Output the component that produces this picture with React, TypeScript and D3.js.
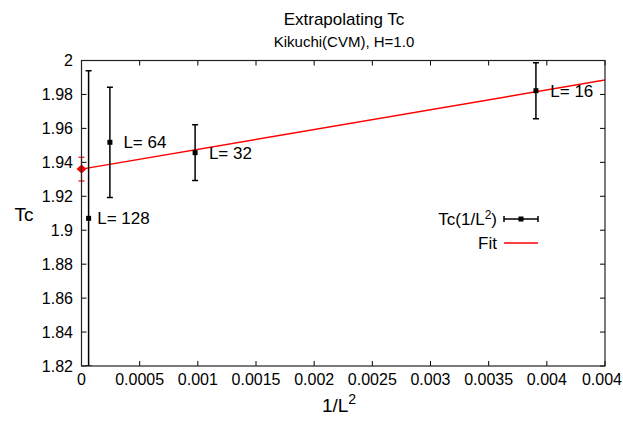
import React from "react";
import * as d3 from "d3";

// ---- data ----
const systemSizes = [16, 32, 64, 128];
const tcValues = [1.9822, 1.9457, 1.9518, 1.907];
const tcErrors = [0.0165, 0.0164, 0.0325, 0.087];
const labelXs = [0.00403, 0.001095, 0.00036, 0.000135];
const fitIntercept = 1.936;
const fitInterceptError = 0.007;
const fitSlope = 11.67;
const xTicks = [0, 0.0005, 0.001, 0.0015, 0.002, 0.0025, 0.003, 0.0035, 0.004, 0.0045];
const xTickLabels = ["0", "0.0005", "0.001", "0.0015", "0.002", "0.0025", "0.003", "0.0035", "0.004", "0.004"];
const yTicks = [1.82, 1.84, 1.86, 1.88, 1.9, 1.92, 1.94, 1.96, 1.98, 2];
const yTickLabels = ["1.82", "1.84", "1.86", "1.88", "1.9", "1.92", "1.94", "1.96", "1.98", "2"];

const W = 623;
const H = 436;
const L = 81.5, R = 605, T = 60.5, B = 366;
const FONT = "'Liberation Sans', Arial, Helvetica, sans-serif";

export default function App() {
  const x = d3.scaleLinear().domain([0, 0.0045]).range([L, R]);
  const y = d3.scaleLinear().domain([1.82, 2]).range([B, T]);
  const pts = systemSizes.map((s, i) => ({
    s,
    x: 1 / (s * s),
    y: tcValues[i],
    e: tcErrors[i],
    lx: labelXs[i],
  }));
  const fitLine = d3.line<number>()
    .x((d) => x(d))
    .y((d) => y(fitIntercept + fitSlope * d));
  const tick = 5;
  const cap = 3;
  const fx = x(0), fy = y(fitIntercept);
  const diamond = `M${fx - 5},${fy} L${fx},${fy - 4.5} L${fx + 5},${fy} L${fx},${fy + 4.5} Z`;
  const legX1 = 504, legX2 = 538, legY1 = 219, legY2 = 243;

  return (
    <svg width={W} height={H} style={{ position: "absolute", left: 0, top: 0, background: "#fff" }} fontFamily={FONT}>
      <rect x={0} y={0} width={W} height={H} fill="#fff" />
      {/* titles */}
      <text x={344} y={25} textAnchor="middle" fontSize={17}>Extrapolating Tc</text>
      <text x={344} y={47} textAnchor="middle" fontSize={15}>Kikuchi(CVM), H=1.0</text>

      <defs>
        <clipPath id="plotclip">
          <rect x={L} y={T} width={R - L} height={B - T} />
        </clipPath>
      </defs>

      {/* ticks */}
      {xTicks.map((t, i) => (
        <g key={"xt" + i}>
          <line x1={x(t)} x2={x(t)} y1={B} y2={B - tick} stroke="#000" />
          <line x1={x(t)} x2={x(t)} y1={T} y2={T + tick} stroke="#000" />
          <text x={i === xTicks.length - 1 ? x(t) - 3 : x(t)} y={385} textAnchor="middle" fontSize={16}>{xTickLabels[i]}</text>
        </g>
      ))}
      {yTicks.map((t, i) => (
        <g key={"yt" + i}>
          <line x1={L} x2={L + tick} y1={y(t)} y2={y(t)} stroke="#000" />
          <line x1={R} x2={R - tick} y1={y(t)} y2={y(t)} stroke="#000" />
          <text x={73} y={y(t)} dy="0.35em" textAnchor="end" fontSize={16}>{yTickLabels[i]}</text>
        </g>
      ))}

      {/* axis labels */}
      <text x={24} y={214} dy="0.35em" textAnchor="middle" fontSize={19}>Tc</text>
      <text x={339} y={412} textAnchor="middle" fontSize={19}>
        1/L<tspan dy={-8} fontSize={14}>2</tspan>
      </text>

      <g clipPath="url(#plotclip)">
        {/* fit line */}
        <path d={fitLine([0, 0.0045]) || ""} fill="none" stroke="#f00" strokeWidth={1.5} />
        {/* data error bars */}
        {pts.map((p) => (
          <g key={"p" + p.s} stroke="#000" strokeWidth={1.5}>
            <line x1={x(p.x)} x2={x(p.x)} y1={y(p.y - p.e)} y2={y(p.y + p.e)} />
            <line x1={x(p.x) - cap} x2={x(p.x) + cap} y1={y(p.y - p.e)} y2={y(p.y - p.e)} />
            <line x1={x(p.x) - cap} x2={x(p.x) + cap} y1={y(p.y + p.e)} y2={y(p.y + p.e)} />
            <rect x={x(p.x) - 2.5} y={y(p.y) - 2.5} width={5} height={5} fill="#000" stroke="none" />
          </g>
        ))}
      </g>

      {/* extrapolated point */}
      <g stroke="#f00" strokeWidth={1.2}>
        <line x1={fx} x2={fx} y1={y(fitIntercept - fitInterceptError)} y2={y(fitIntercept + fitInterceptError)} />
        <line x1={fx - cap} x2={fx + cap} y1={y(fitIntercept - fitInterceptError)} y2={y(fitIntercept - fitInterceptError)} />
        <line x1={fx - cap} x2={fx + cap} y1={y(fitIntercept + fitInterceptError)} y2={y(fitIntercept + fitInterceptError)} />
      </g>
      <path d={diamond} fill="#f00" />

      {/* point labels */}
      {pts.map((p) => (
        <text key={"l" + p.s} x={x(p.lx)} y={y(p.y)} dy="0.35em" fontSize={17}>{"L= " + p.s}</text>
      ))}

      {/* border */}
      <rect x={L} y={T} width={R - L} height={B - T} fill="none" stroke="#222" strokeWidth={1.2} />

      {/* legend */}
      <text x={497} y={legY1} dy="0.35em" textAnchor="end" fontSize={17}>
        Tc(1/L<tspan dy={-6} fontSize={12}>2</tspan><tspan dy={6}>)</tspan>
      </text>
      <g stroke="#000" strokeWidth={1.5}>
        <line x1={legX1} x2={legX2} y1={legY1} y2={legY1} />
        <line x1={legX1} x2={legX1} y1={legY1 - cap} y2={legY1 + cap} />
        <line x1={legX2} x2={legX2} y1={legY1 - cap} y2={legY1 + cap} />
      </g>
      <rect x={(legX1 + legX2) / 2 - 2.5} y={legY1 - 2.5} width={5} height={5} fill="#000" />
      <text x={497} y={legY2} dy="0.35em" textAnchor="end" fontSize={17}>Fit</text>
      <line x1={legX1} x2={legX2} y1={legY2} y2={legY2} stroke="#f00" strokeWidth={1.5} />
    </svg>
  );
}
